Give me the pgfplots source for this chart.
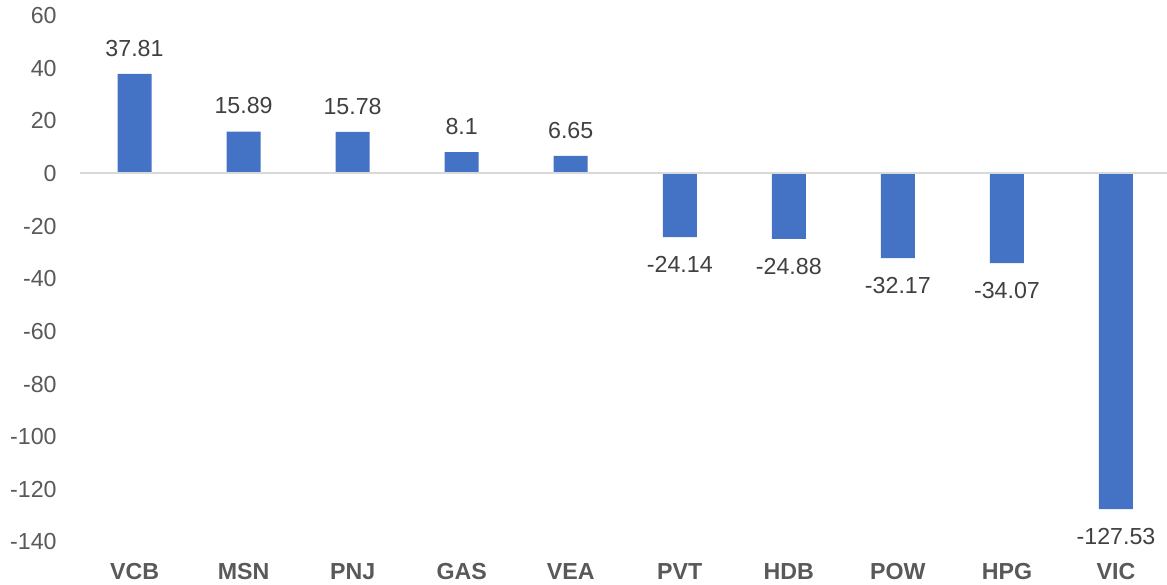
\documentclass[border=0pt]{standalone}
\usepackage{pgfplots}
\pgfplotsset{compat=1.18}
\usepackage{fontspec}
\setmainfont{Liberation Sans}
\definecolor{barblue}{HTML}{4472C4}
\definecolor{ticktext}{HTML}{595959}
\definecolor{labtext}{HTML}{404040}
\definecolor{zeroline}{HTML}{D9D9D9}
\begin{document}
\fontsize{11.6}{13}\selectfont
\begin{tikzpicture}
\useasboundingbox (0,0) rectangle (583.5pt,292pt);
\begin{axis}[
  at={(40pt,21pt)}, anchor=south west,
  scale only axis, width=543.5pt, height=263.25pt,
  xmin=-0.5, xmax=9.468, ymin=-140, ymax=60,
  ytick={-140,-120,...,60},
  xtick={0,...,9},
  xticklabels={VCB,MSN,PNJ,GAS,VEA,PVT,HDB,POW,HPG,VIC},
  axis line style={draw=none},
  major tick length=0pt,
  /pgf/number format/assume math mode=true,
  tick label style={font=\fontsize{11.6}{13}\selectfont},
  yticklabel style={anchor=east, inner sep=0pt, xshift=-11.5pt, text=ticktext},
  xticklabel style={anchor=north, inner sep=0pt, yshift=-10.5pt, font=\fontsize{11.6}{13}\selectfont\bfseries, text=ticktext},
  extra y ticks={0}, extra y tick labels={},
  extra y tick style={grid=major, major grid style={draw=zeroline, line width=1pt}},
  axis on top,
  ybar, bar width=17pt, bar shift=0pt,
  point meta=explicit symbolic,
]
\addplot[fill=barblue, draw=none,
  nodes near coords,
  every node near coord/.style={anchor=south, inner sep=0pt, yshift=8.5pt, text=labtext, font=\fontsize{11.6}{13}\selectfont}]
  coordinates {(0,37.81) [37.81] (1,15.89) [15.89] (2,15.78) [15.78] (3,8.1) [8.1] (4,6.65) [6.65]};
\addplot[fill=barblue, draw=none,
  nodes near coords,
  every node near coord/.style={anchor=north, inner sep=0pt, yshift=-9.5pt, text=labtext, font=\fontsize{11.6}{13}\selectfont}]
  coordinates {(5,-24.14) [-24.14] (6,-24.88) [-24.88] (7,-32.17) [-32.17] (8,-34.07) [-34.07] (9,-127.53) [-127.53]};
\end{axis}
\end{tikzpicture}
\end{document}
